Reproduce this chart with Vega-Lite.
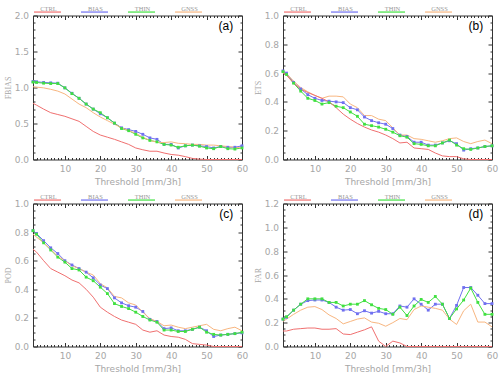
{
"$schema": "https://vega.github.io/schema/vega-lite/v6.json",
"padding": {"left": 3, "top": -3.5, "right": 0, "bottom": 0},
"background": "white",
"data": {"values": [
{"p":"a","s":"BIAS","x":1,"y":1.083},{"p":"a","s":"BIAS","x":2,"y":1.08},{"p":"a","s":"BIAS","x":4,"y":1.07},{"p":"a","s":"BIAS","x":6,"y":1.065},{"p":"a","s":"BIAS","x":8,"y":1.06},{"p":"a","s":"BIAS","x":10,"y":0.995},{"p":"a","s":"BIAS","x":12,"y":0.92},{"p":"a","s":"BIAS","x":14,"y":0.85},{"p":"a","s":"BIAS","x":16,"y":0.77},{"p":"a","s":"BIAS","x":18,"y":0.70},{"p":"a","s":"BIAS","x":20,"y":0.635},{"p":"a","s":"BIAS","x":22,"y":0.58},{"p":"a","s":"BIAS","x":24,"y":0.505},{"p":"a","s":"BIAS","x":26,"y":0.44},{"p":"a","s":"BIAS","x":28,"y":0.415},{"p":"a","s":"BIAS","x":30,"y":0.39},{"p":"a","s":"BIAS","x":32,"y":0.35},{"p":"a","s":"BIAS","x":34,"y":0.30},{"p":"a","s":"BIAS","x":36,"y":0.28},{"p":"a","s":"BIAS","x":38,"y":0.21},{"p":"a","s":"BIAS","x":40,"y":0.21},{"p":"a","s":"BIAS","x":42,"y":0.16},{"p":"a","s":"BIAS","x":44,"y":0.19},{"p":"a","s":"BIAS","x":46,"y":0.20},{"p":"a","s":"BIAS","x":48,"y":0.19},{"p":"a","s":"BIAS","x":50,"y":0.18},{"p":"a","s":"BIAS","x":52,"y":0.16},{"p":"a","s":"BIAS","x":54,"y":0.18},{"p":"a","s":"BIAS","x":56,"y":0.17},{"p":"a","s":"BIAS","x":58,"y":0.17},{"p":"a","s":"BIAS","x":60,"y":0.19},
{"p":"a","s":"THIN","x":1,"y":1.075},{"p":"a","s":"THIN","x":2,"y":1.07},{"p":"a","s":"THIN","x":4,"y":1.06},{"p":"a","s":"THIN","x":6,"y":1.055},{"p":"a","s":"THIN","x":8,"y":1.055},{"p":"a","s":"THIN","x":10,"y":0.995},{"p":"a","s":"THIN","x":12,"y":0.915},{"p":"a","s":"THIN","x":14,"y":0.85},{"p":"a","s":"THIN","x":16,"y":0.77},{"p":"a","s":"THIN","x":18,"y":0.70},{"p":"a","s":"THIN","x":20,"y":0.65},{"p":"a","s":"THIN","x":22,"y":0.58},{"p":"a","s":"THIN","x":24,"y":0.505},{"p":"a","s":"THIN","x":26,"y":0.43},{"p":"a","s":"THIN","x":28,"y":0.40},{"p":"a","s":"THIN","x":30,"y":0.35},{"p":"a","s":"THIN","x":32,"y":0.30},{"p":"a","s":"THIN","x":34,"y":0.265},{"p":"a","s":"THIN","x":36,"y":0.245},{"p":"a","s":"THIN","x":38,"y":0.21},{"p":"a","s":"THIN","x":40,"y":0.20},{"p":"a","s":"THIN","x":42,"y":0.17},{"p":"a","s":"THIN","x":44,"y":0.19},{"p":"a","s":"THIN","x":46,"y":0.20},{"p":"a","s":"THIN","x":48,"y":0.185},{"p":"a","s":"THIN","x":50,"y":0.16},{"p":"a","s":"THIN","x":52,"y":0.15},{"p":"a","s":"THIN","x":54,"y":0.18},{"p":"a","s":"THIN","x":56,"y":0.15},{"p":"a","s":"THIN","x":58,"y":0.145},{"p":"a","s":"THIN","x":60,"y":0.16},
{"p":"a","s":"GNSS","x":1,"y":1.01},{"p":"a","s":"GNSS","x":4,"y":0.995},{"p":"a","s":"GNSS","x":6,"y":0.975},{"p":"a","s":"GNSS","x":8,"y":0.95},{"p":"a","s":"GNSS","x":10,"y":0.91},{"p":"a","s":"GNSS","x":12,"y":0.84},{"p":"a","s":"GNSS","x":14,"y":0.77},{"p":"a","s":"GNSS","x":16,"y":0.72},{"p":"a","s":"GNSS","x":18,"y":0.65},{"p":"a","s":"GNSS","x":20,"y":0.59},{"p":"a","s":"GNSS","x":22,"y":0.54},{"p":"a","s":"GNSS","x":24,"y":0.49},{"p":"a","s":"GNSS","x":26,"y":0.44},{"p":"a","s":"GNSS","x":28,"y":0.40},{"p":"a","s":"GNSS","x":30,"y":0.365},{"p":"a","s":"GNSS","x":32,"y":0.31},{"p":"a","s":"GNSS","x":34,"y":0.265},{"p":"a","s":"GNSS","x":36,"y":0.24},{"p":"a","s":"GNSS","x":38,"y":0.235},{"p":"a","s":"GNSS","x":40,"y":0.245},{"p":"a","s":"GNSS","x":42,"y":0.225},{"p":"a","s":"GNSS","x":44,"y":0.22},{"p":"a","s":"GNSS","x":46,"y":0.21},{"p":"a","s":"GNSS","x":48,"y":0.21},{"p":"a","s":"GNSS","x":50,"y":0.20},{"p":"a","s":"GNSS","x":52,"y":0.20},{"p":"a","s":"GNSS","x":54,"y":0.19},{"p":"a","s":"GNSS","x":56,"y":0.18},{"p":"a","s":"GNSS","x":58,"y":0.17},{"p":"a","s":"GNSS","x":60,"y":0.16},
{"p":"a","s":"CTRL","x":1,"y":0.78},{"p":"a","s":"CTRL","x":2,"y":0.755},{"p":"a","s":"CTRL","x":4,"y":0.70},{"p":"a","s":"CTRL","x":6,"y":0.65},{"p":"a","s":"CTRL","x":8,"y":0.625},{"p":"a","s":"CTRL","x":10,"y":0.60},{"p":"a","s":"CTRL","x":12,"y":0.565},{"p":"a","s":"CTRL","x":14,"y":0.53},{"p":"a","s":"CTRL","x":16,"y":0.46},{"p":"a","s":"CTRL","x":18,"y":0.39},{"p":"a","s":"CTRL","x":20,"y":0.34},{"p":"a","s":"CTRL","x":22,"y":0.31},{"p":"a","s":"CTRL","x":24,"y":0.28},{"p":"a","s":"CTRL","x":26,"y":0.245},{"p":"a","s":"CTRL","x":28,"y":0.21},{"p":"a","s":"CTRL","x":30,"y":0.16},{"p":"a","s":"CTRL","x":32,"y":0.135},{"p":"a","s":"CTRL","x":34,"y":0.115},{"p":"a","s":"CTRL","x":36,"y":0.115},{"p":"a","s":"CTRL","x":38,"y":0.09},{"p":"a","s":"CTRL","x":40,"y":0.07},{"p":"a","s":"CTRL","x":42,"y":0.06},{"p":"a","s":"CTRL","x":44,"y":0.04},{"p":"a","s":"CTRL","x":46,"y":0.015},{"p":"a","s":"CTRL","x":48,"y":0.005},{"p":"a","s":"CTRL","x":50,"y":0},{"p":"a","s":"CTRL","x":52,"y":0},{"p":"a","s":"CTRL","x":54,"y":0},{"p":"a","s":"CTRL","x":56,"y":0},{"p":"a","s":"CTRL","x":58,"y":0},{"p":"a","s":"CTRL","x":60,"y":0},

{"p":"b","s":"BIAS","x":1,"y":0.615},{"p":"b","s":"BIAS","x":2,"y":0.60},{"p":"b","s":"BIAS","x":4,"y":0.535},{"p":"b","s":"BIAS","x":6,"y":0.49},{"p":"b","s":"BIAS","x":8,"y":0.45},{"p":"b","s":"BIAS","x":10,"y":0.425},{"p":"b","s":"BIAS","x":12,"y":0.41},{"p":"b","s":"BIAS","x":14,"y":0.405},{"p":"b","s":"BIAS","x":16,"y":0.40},{"p":"b","s":"BIAS","x":18,"y":0.395},{"p":"b","s":"BIAS","x":20,"y":0.36},{"p":"b","s":"BIAS","x":22,"y":0.345},{"p":"b","s":"BIAS","x":24,"y":0.295},{"p":"b","s":"BIAS","x":26,"y":0.27},{"p":"b","s":"BIAS","x":28,"y":0.255},{"p":"b","s":"BIAS","x":30,"y":0.245},{"p":"b","s":"BIAS","x":32,"y":0.215},{"p":"b","s":"BIAS","x":34,"y":0.17},{"p":"b","s":"BIAS","x":36,"y":0.16},{"p":"b","s":"BIAS","x":38,"y":0.12},{"p":"b","s":"BIAS","x":40,"y":0.12},{"p":"b","s":"BIAS","x":42,"y":0.10},{"p":"b","s":"BIAS","x":44,"y":0.10},{"p":"b","s":"BIAS","x":46,"y":0.115},{"p":"b","s":"BIAS","x":48,"y":0.13},{"p":"b","s":"BIAS","x":50,"y":0.11},{"p":"b","s":"BIAS","x":52,"y":0.065},{"p":"b","s":"BIAS","x":54,"y":0.075},{"p":"b","s":"BIAS","x":56,"y":0.08},{"p":"b","s":"BIAS","x":58,"y":0.09},{"p":"b","s":"BIAS","x":60,"y":0.095},
{"p":"b","s":"THIN","x":1,"y":0.61},{"p":"b","s":"THIN","x":2,"y":0.59},{"p":"b","s":"THIN","x":4,"y":0.53},{"p":"b","s":"THIN","x":6,"y":0.475},{"p":"b","s":"THIN","x":8,"y":0.425},{"p":"b","s":"THIN","x":10,"y":0.41},{"p":"b","s":"THIN","x":12,"y":0.385},{"p":"b","s":"THIN","x":14,"y":0.395},{"p":"b","s":"THIN","x":16,"y":0.37},{"p":"b","s":"THIN","x":18,"y":0.36},{"p":"b","s":"THIN","x":20,"y":0.33},{"p":"b","s":"THIN","x":22,"y":0.30},{"p":"b","s":"THIN","x":24,"y":0.245},{"p":"b","s":"THIN","x":26,"y":0.235},{"p":"b","s":"THIN","x":28,"y":0.225},{"p":"b","s":"THIN","x":30,"y":0.21},{"p":"b","s":"THIN","x":32,"y":0.19},{"p":"b","s":"THIN","x":34,"y":0.165},{"p":"b","s":"THIN","x":36,"y":0.155},{"p":"b","s":"THIN","x":38,"y":0.11},{"p":"b","s":"THIN","x":40,"y":0.105},{"p":"b","s":"THIN","x":42,"y":0.095},{"p":"b","s":"THIN","x":44,"y":0.095},{"p":"b","s":"THIN","x":46,"y":0.115},{"p":"b","s":"THIN","x":48,"y":0.135},{"p":"b","s":"THIN","x":50,"y":0.10},{"p":"b","s":"THIN","x":52,"y":0.075},{"p":"b","s":"THIN","x":54,"y":0.07},{"p":"b","s":"THIN","x":56,"y":0.08},{"p":"b","s":"THIN","x":58,"y":0.09},{"p":"b","s":"THIN","x":60,"y":0.095},
{"p":"b","s":"GNSS","x":1,"y":0.62},{"p":"b","s":"GNSS","x":4,"y":0.545},{"p":"b","s":"GNSS","x":6,"y":0.50},{"p":"b","s":"GNSS","x":8,"y":0.47},{"p":"b","s":"GNSS","x":10,"y":0.445},{"p":"b","s":"GNSS","x":12,"y":0.425},{"p":"b","s":"GNSS","x":14,"y":0.44},{"p":"b","s":"GNSS","x":16,"y":0.44},{"p":"b","s":"GNSS","x":18,"y":0.435},{"p":"b","s":"GNSS","x":20,"y":0.385},{"p":"b","s":"GNSS","x":22,"y":0.36},{"p":"b","s":"GNSS","x":24,"y":0.305},{"p":"b","s":"GNSS","x":26,"y":0.305},{"p":"b","s":"GNSS","x":28,"y":0.28},{"p":"b","s":"GNSS","x":30,"y":0.27},{"p":"b","s":"GNSS","x":32,"y":0.22},{"p":"b","s":"GNSS","x":34,"y":0.17},{"p":"b","s":"GNSS","x":36,"y":0.17},{"p":"b","s":"GNSS","x":38,"y":0.145},{"p":"b","s":"GNSS","x":40,"y":0.14},{"p":"b","s":"GNSS","x":42,"y":0.13},{"p":"b","s":"GNSS","x":44,"y":0.12},{"p":"b","s":"GNSS","x":46,"y":0.13},{"p":"b","s":"GNSS","x":48,"y":0.145},{"p":"b","s":"GNSS","x":50,"y":0.15},{"p":"b","s":"GNSS","x":52,"y":0.125},{"p":"b","s":"GNSS","x":54,"y":0.11},{"p":"b","s":"GNSS","x":56,"y":0.125},{"p":"b","s":"GNSS","x":58,"y":0.135},{"p":"b","s":"GNSS","x":60,"y":0.11},
{"p":"b","s":"CTRL","x":1,"y":0.60},{"p":"b","s":"CTRL","x":2,"y":0.585},{"p":"b","s":"CTRL","x":4,"y":0.53},{"p":"b","s":"CTRL","x":6,"y":0.49},{"p":"b","s":"CTRL","x":8,"y":0.465},{"p":"b","s":"CTRL","x":10,"y":0.445},{"p":"b","s":"CTRL","x":12,"y":0.425},{"p":"b","s":"CTRL","x":14,"y":0.40},{"p":"b","s":"CTRL","x":16,"y":0.36},{"p":"b","s":"CTRL","x":18,"y":0.315},{"p":"b","s":"CTRL","x":20,"y":0.28},{"p":"b","s":"CTRL","x":22,"y":0.25},{"p":"b","s":"CTRL","x":24,"y":0.225},{"p":"b","s":"CTRL","x":26,"y":0.205},{"p":"b","s":"CTRL","x":28,"y":0.19},{"p":"b","s":"CTRL","x":30,"y":0.17},{"p":"b","s":"CTRL","x":32,"y":0.145},{"p":"b","s":"CTRL","x":34,"y":0.115},{"p":"b","s":"CTRL","x":36,"y":0.12},{"p":"b","s":"CTRL","x":38,"y":0.08},{"p":"b","s":"CTRL","x":40,"y":0.075},{"p":"b","s":"CTRL","x":42,"y":0.07},{"p":"b","s":"CTRL","x":44,"y":0.045},{"p":"b","s":"CTRL","x":46,"y":0.025},{"p":"b","s":"CTRL","x":48,"y":0.02},{"p":"b","s":"CTRL","x":50,"y":0.02},{"p":"b","s":"CTRL","x":52,"y":0.005},{"p":"b","s":"CTRL","x":54,"y":0},{"p":"b","s":"CTRL","x":56,"y":0},{"p":"b","s":"CTRL","x":58,"y":0},{"p":"b","s":"CTRL","x":60,"y":0},

{"p":"c","s":"BIAS","x":1,"y":0.81},{"p":"c","s":"BIAS","x":2,"y":0.79},{"p":"c","s":"BIAS","x":4,"y":0.74},{"p":"c","s":"BIAS","x":6,"y":0.69},{"p":"c","s":"BIAS","x":8,"y":0.65},{"p":"c","s":"BIAS","x":10,"y":0.60},{"p":"c","s":"BIAS","x":12,"y":0.57},{"p":"c","s":"BIAS","x":14,"y":0.545},{"p":"c","s":"BIAS","x":16,"y":0.52},{"p":"c","s":"BIAS","x":18,"y":0.48},{"p":"c","s":"BIAS","x":20,"y":0.43},{"p":"c","s":"BIAS","x":22,"y":0.405},{"p":"c","s":"BIAS","x":24,"y":0.34},{"p":"c","s":"BIAS","x":26,"y":0.305},{"p":"c","s":"BIAS","x":28,"y":0.285},{"p":"c","s":"BIAS","x":30,"y":0.275},{"p":"c","s":"BIAS","x":32,"y":0.245},{"p":"c","s":"BIAS","x":34,"y":0.19},{"p":"c","s":"BIAS","x":36,"y":0.175},{"p":"c","s":"BIAS","x":38,"y":0.125},{"p":"c","s":"BIAS","x":40,"y":0.13},{"p":"c","s":"BIAS","x":42,"y":0.11},{"p":"c","s":"BIAS","x":44,"y":0.11},{"p":"c","s":"BIAS","x":46,"y":0.12},{"p":"c","s":"BIAS","x":48,"y":0.135},{"p":"c","s":"BIAS","x":50,"y":0.11},{"p":"c","s":"BIAS","x":52,"y":0.07},{"p":"c","s":"BIAS","x":54,"y":0.08},{"p":"c","s":"BIAS","x":56,"y":0.085},{"p":"c","s":"BIAS","x":58,"y":0.09},{"p":"c","s":"BIAS","x":60,"y":0.095},
{"p":"c","s":"THIN","x":1,"y":0.81},{"p":"c","s":"THIN","x":2,"y":0.785},{"p":"c","s":"THIN","x":4,"y":0.725},{"p":"c","s":"THIN","x":6,"y":0.675},{"p":"c","s":"THIN","x":8,"y":0.625},{"p":"c","s":"THIN","x":10,"y":0.59},{"p":"c","s":"THIN","x":12,"y":0.545},{"p":"c","s":"THIN","x":14,"y":0.535},{"p":"c","s":"THIN","x":16,"y":0.485},{"p":"c","s":"THIN","x":18,"y":0.46},{"p":"c","s":"THIN","x":20,"y":0.415},{"p":"c","s":"THIN","x":22,"y":0.37},{"p":"c","s":"THIN","x":24,"y":0.30},{"p":"c","s":"THIN","x":26,"y":0.28},{"p":"c","s":"THIN","x":28,"y":0.265},{"p":"c","s":"THIN","x":30,"y":0.24},{"p":"c","s":"THIN","x":32,"y":0.21},{"p":"c","s":"THIN","x":34,"y":0.185},{"p":"c","s":"THIN","x":36,"y":0.17},{"p":"c","s":"THIN","x":38,"y":0.115},{"p":"c","s":"THIN","x":40,"y":0.115},{"p":"c","s":"THIN","x":42,"y":0.105},{"p":"c","s":"THIN","x":44,"y":0.105},{"p":"c","s":"THIN","x":46,"y":0.12},{"p":"c","s":"THIN","x":48,"y":0.135},{"p":"c","s":"THIN","x":50,"y":0.10},{"p":"c","s":"THIN","x":52,"y":0.085},{"p":"c","s":"THIN","x":54,"y":0.08},{"p":"c","s":"THIN","x":56,"y":0.085},{"p":"c","s":"THIN","x":58,"y":0.09},{"p":"c","s":"THIN","x":60,"y":0.10},
{"p":"c","s":"GNSS","x":1,"y":0.785},{"p":"c","s":"GNSS","x":4,"y":0.725},{"p":"c","s":"GNSS","x":6,"y":0.68},{"p":"c","s":"GNSS","x":8,"y":0.63},{"p":"c","s":"GNSS","x":10,"y":0.60},{"p":"c","s":"GNSS","x":12,"y":0.565},{"p":"c","s":"GNSS","x":14,"y":0.545},{"p":"c","s":"GNSS","x":16,"y":0.52},{"p":"c","s":"GNSS","x":18,"y":0.50},{"p":"c","s":"GNSS","x":20,"y":0.44},{"p":"c","s":"GNSS","x":22,"y":0.41},{"p":"c","s":"GNSS","x":24,"y":0.35},{"p":"c","s":"GNSS","x":26,"y":0.34},{"p":"c","s":"GNSS","x":28,"y":0.305},{"p":"c","s":"GNSS","x":30,"y":0.29},{"p":"c","s":"GNSS","x":32,"y":0.24},{"p":"c","s":"GNSS","x":34,"y":0.195},{"p":"c","s":"GNSS","x":36,"y":0.175},{"p":"c","s":"GNSS","x":38,"y":0.145},{"p":"c","s":"GNSS","x":40,"y":0.15},{"p":"c","s":"GNSS","x":42,"y":0.135},{"p":"c","s":"GNSS","x":44,"y":0.125},{"p":"c","s":"GNSS","x":46,"y":0.135},{"p":"c","s":"GNSS","x":48,"y":0.145},{"p":"c","s":"GNSS","x":50,"y":0.155},{"p":"c","s":"GNSS","x":52,"y":0.12},{"p":"c","s":"GNSS","x":54,"y":0.11},{"p":"c","s":"GNSS","x":56,"y":0.125},{"p":"c","s":"GNSS","x":58,"y":0.135},{"p":"c","s":"GNSS","x":60,"y":0.11},
{"p":"c","s":"CTRL","x":1,"y":0.68},{"p":"c","s":"CTRL","x":2,"y":0.66},{"p":"c","s":"CTRL","x":4,"y":0.60},{"p":"c","s":"CTRL","x":6,"y":0.545},{"p":"c","s":"CTRL","x":8,"y":0.52},{"p":"c","s":"CTRL","x":10,"y":0.495},{"p":"c","s":"CTRL","x":12,"y":0.465},{"p":"c","s":"CTRL","x":14,"y":0.445},{"p":"c","s":"CTRL","x":16,"y":0.40},{"p":"c","s":"CTRL","x":18,"y":0.345},{"p":"c","s":"CTRL","x":20,"y":0.275},{"p":"c","s":"CTRL","x":22,"y":0.24},{"p":"c","s":"CTRL","x":24,"y":0.21},{"p":"c","s":"CTRL","x":26,"y":0.185},{"p":"c","s":"CTRL","x":28,"y":0.17},{"p":"c","s":"CTRL","x":30,"y":0.155},{"p":"c","s":"CTRL","x":32,"y":0.115},{"p":"c","s":"CTRL","x":34,"y":0.10},{"p":"c","s":"CTRL","x":36,"y":0.11},{"p":"c","s":"CTRL","x":38,"y":0.08},{"p":"c","s":"CTRL","x":40,"y":0.07},{"p":"c","s":"CTRL","x":42,"y":0.065},{"p":"c","s":"CTRL","x":44,"y":0.05},{"p":"c","s":"CTRL","x":46,"y":0.02},{"p":"c","s":"CTRL","x":48,"y":0.015},{"p":"c","s":"CTRL","x":50,"y":0.01},{"p":"c","s":"CTRL","x":52,"y":0},{"p":"c","s":"CTRL","x":54,"y":0},{"p":"c","s":"CTRL","x":56,"y":0},{"p":"c","s":"CTRL","x":58,"y":0},{"p":"c","s":"CTRL","x":60,"y":0},

{"p":"d","s":"BIAS","x":1,"y":0.23},{"p":"d","s":"BIAS","x":2,"y":0.245},{"p":"d","s":"BIAS","x":4,"y":0.305},{"p":"d","s":"BIAS","x":6,"y":0.355},{"p":"d","s":"BIAS","x":8,"y":0.385},{"p":"d","s":"BIAS","x":10,"y":0.39},{"p":"d","s":"BIAS","x":12,"y":0.39},{"p":"d","s":"BIAS","x":14,"y":0.37},{"p":"d","s":"BIAS","x":16,"y":0.33},{"p":"d","s":"BIAS","x":18,"y":0.305},{"p":"d","s":"BIAS","x":20,"y":0.31},{"p":"d","s":"BIAS","x":22,"y":0.275},{"p":"d","s":"BIAS","x":24,"y":0.30},{"p":"d","s":"BIAS","x":26,"y":0.28},{"p":"d","s":"BIAS","x":28,"y":0.295},{"p":"d","s":"BIAS","x":30,"y":0.275},{"p":"d","s":"BIAS","x":32,"y":0.275},{"p":"d","s":"BIAS","x":34,"y":0.34},{"p":"d","s":"BIAS","x":36,"y":0.33},{"p":"d","s":"BIAS","x":38,"y":0.40},{"p":"d","s":"BIAS","x":40,"y":0.355},{"p":"d","s":"BIAS","x":42,"y":0.305},{"p":"d","s":"BIAS","x":44,"y":0.355},{"p":"d","s":"BIAS","x":46,"y":0.355},{"p":"d","s":"BIAS","x":48,"y":0.235},{"p":"d","s":"BIAS","x":50,"y":0.345},{"p":"d","s":"BIAS","x":52,"y":0.495},{"p":"d","s":"BIAS","x":54,"y":0.495},{"p":"d","s":"BIAS","x":56,"y":0.43},{"p":"d","s":"BIAS","x":58,"y":0.36},{"p":"d","s":"BIAS","x":60,"y":0.36},
{"p":"d","s":"THIN","x":1,"y":0.23},{"p":"d","s":"THIN","x":2,"y":0.25},{"p":"d","s":"THIN","x":4,"y":0.305},{"p":"d","s":"THIN","x":6,"y":0.355},{"p":"d","s":"THIN","x":8,"y":0.40},{"p":"d","s":"THIN","x":10,"y":0.40},{"p":"d","s":"THIN","x":12,"y":0.40},{"p":"d","s":"THIN","x":14,"y":0.37},{"p":"d","s":"THIN","x":16,"y":0.37},{"p":"d","s":"THIN","x":18,"y":0.34},{"p":"d","s":"THIN","x":20,"y":0.355},{"p":"d","s":"THIN","x":22,"y":0.355},{"p":"d","s":"THIN","x":24,"y":0.385},{"p":"d","s":"THIN","x":26,"y":0.35},{"p":"d","s":"THIN","x":28,"y":0.32},{"p":"d","s":"THIN","x":30,"y":0.31},{"p":"d","s":"THIN","x":32,"y":0.27},{"p":"d","s":"THIN","x":34,"y":0.33},{"p":"d","s":"THIN","x":36,"y":0.26},{"p":"d","s":"THIN","x":38,"y":0.34},{"p":"d","s":"THIN","x":40,"y":0.395},{"p":"d","s":"THIN","x":42,"y":0.37},{"p":"d","s":"THIN","x":44,"y":0.42},{"p":"d","s":"THIN","x":46,"y":0.355},{"p":"d","s":"THIN","x":48,"y":0.235},{"p":"d","s":"THIN","x":50,"y":0.315},{"p":"d","s":"THIN","x":52,"y":0.39},{"p":"d","s":"THIN","x":54,"y":0.49},{"p":"d","s":"THIN","x":56,"y":0.37},{"p":"d","s":"THIN","x":58,"y":0.27},{"p":"d","s":"THIN","x":60,"y":0.27},
{"p":"d","s":"GNSS","x":1,"y":0.21},{"p":"d","s":"GNSS","x":4,"y":0.27},{"p":"d","s":"GNSS","x":6,"y":0.305},{"p":"d","s":"GNSS","x":8,"y":0.33},{"p":"d","s":"GNSS","x":10,"y":0.335},{"p":"d","s":"GNSS","x":12,"y":0.31},{"p":"d","s":"GNSS","x":14,"y":0.265},{"p":"d","s":"GNSS","x":16,"y":0.235},{"p":"d","s":"GNSS","x":18,"y":0.19},{"p":"d","s":"GNSS","x":20,"y":0.21},{"p":"d","s":"GNSS","x":22,"y":0.23},{"p":"d","s":"GNSS","x":24,"y":0.24},{"p":"d","s":"GNSS","x":26,"y":0.205},{"p":"d","s":"GNSS","x":28,"y":0.195},{"p":"d","s":"GNSS","x":30,"y":0.17},{"p":"d","s":"GNSS","x":32,"y":0.20},{"p":"d","s":"GNSS","x":34,"y":0.235},{"p":"d","s":"GNSS","x":36,"y":0.225},{"p":"d","s":"GNSS","x":38,"y":0.31},{"p":"d","s":"GNSS","x":40,"y":0.34},{"p":"d","s":"GNSS","x":42,"y":0.33},{"p":"d","s":"GNSS","x":44,"y":0.32},{"p":"d","s":"GNSS","x":46,"y":0.305},{"p":"d","s":"GNSS","x":48,"y":0.23},{"p":"d","s":"GNSS","x":50,"y":0.185},{"p":"d","s":"GNSS","x":52,"y":0.30},{"p":"d","s":"GNSS","x":54,"y":0.355},{"p":"d","s":"GNSS","x":56,"y":0.205},{"p":"d","s":"GNSS","x":58,"y":0.205},{"p":"d","s":"GNSS","x":60,"y":0.165},
{"p":"d","s":"CTRL","x":1,"y":0.13},{"p":"d","s":"CTRL","x":2,"y":0.13},{"p":"d","s":"CTRL","x":4,"y":0.145},{"p":"d","s":"CTRL","x":6,"y":0.15},{"p":"d","s":"CTRL","x":8,"y":0.155},{"p":"d","s":"CTRL","x":10,"y":0.155},{"p":"d","s":"CTRL","x":12,"y":0.145},{"p":"d","s":"CTRL","x":14,"y":0.145},{"p":"d","s":"CTRL","x":16,"y":0.15},{"p":"d","s":"CTRL","x":18,"y":0.105},{"p":"d","s":"CTRL","x":20,"y":0.10},{"p":"d","s":"CTRL","x":22,"y":0.12},{"p":"d","s":"CTRL","x":24,"y":0.14},{"p":"d","s":"CTRL","x":26,"y":0.165},{"p":"d","s":"CTRL","x":28,"y":0.045},{"p":"d","s":"CTRL","x":30,"y":0},{"p":"d","s":"CTRL","x":32,"y":0.045},{"p":"d","s":"CTRL","x":34,"y":0.03},{"p":"d","s":"CTRL","x":36,"y":0},{"p":"d","s":"CTRL","x":38,"y":0},{"p":"d","s":"CTRL","x":40,"y":0},{"p":"d","s":"CTRL","x":42,"y":0},{"p":"d","s":"CTRL","x":44,"y":0},{"p":"d","s":"CTRL","x":46,"y":0},{"p":"d","s":"CTRL","x":48,"y":0},{"p":"d","s":"CTRL","x":50,"y":0},{"p":"d","s":"CTRL","x":52,"y":0},{"p":"d","s":"CTRL","x":54,"y":0},{"p":"d","s":"CTRL","x":56,"y":0},{"p":"d","s":"CTRL","x":58,"y":0},{"p":"d","s":"CTRL","x":60,"y":0}
]},
"columns": 2,
"spacing": {"row": 44, "column": 41},
"bounds": "flush",
"resolve": {"scale": {"x": "independent", "y": "independent"}, "legend": {"color": "independent"}},
"concat": [
{
"width": 209, "height": 144,
"layer": [
{"transform": [{"filter": "datum.p === 'a'"}],
 "mark": {"type": "line", "strokeWidth": 1},
 "encoding": {
  "x": {"field": "x", "type": "quantitative", "scale": {"domain": [1, 60], "nice": false, "zero": false},
   "axis": {"orient": "bottom", "values": [2,3,4,5,6,7,8,9,10,11,12,13,14,15,16,17,18,19,20,21,22,23,24,25,26,27,28,29,30,31,32,33,34,35,36,37,38,39,40,41,42,43,44,45,46,47,48,49,50,51,52,53,54,55,56,57,58,59,60], "labelExpr": "datum.value % 10 === 0 ? datum.label : ''", "tickSize": {"condition": {"test": "datum.value % 10 === 0", "value": -4}, "value": -2}, "title": "Threshold [mm/3h]"}},
  "y": {"field": "y", "type": "quantitative", "scale": {"domain": [0, 2], "nice": false, "zero": false},
   "axis": {"orient": "left", "values": [0,0.1,0.2,0.3,0.4,0.5,0.6,0.7,0.8,0.9,1,1.1,1.2,1.3,1.4,1.5,1.6,1.7,1.8,1.9,2], "format": ".1f", "labelExpr": "abs(datum.value*2-round(datum.value*2))<1e-6 ? datum.label : ''", "tickSize": {"condition": {"test": "abs(datum.value*2-round(datum.value*2))<1e-6", "value": -4}, "value": -2}, "title": "FBIAS"}},
  "color": {"field": "s", "type": "nominal", "scale": {"domain": ["CTRL", "BIAS", "THIN", "GNSS"], "range": ["#f07070", "#7070f0", "#40e040", "#f8b680"]}, "legend": {"orient": "top"}}
 }},
{"transform": [{"filter": "datum.p === 'a' && (datum.s === 'BIAS' || datum.s === 'THIN')"}],
 "mark": {"type": "point", "shape": "square", "filled": true, "size": 8, "opacity": 1},
 "encoding": {
  "x": {"field": "x", "type": "quantitative",
   "axis": {"orient": "top", "values": [2,3,4,5,6,7,8,9,10,11,12,13,14,15,16,17,18,19,20,21,22,23,24,25,26,27,28,29,30,31,32,33,34,35,36,37,38,39,40,41,42,43,44,45,46,47,48,49,50,51,52,53,54,55,56,57,58,59,60], "labels": false, "title": null, "tickSize": {"condition": {"test": "datum.value % 10 === 0", "value": -4}, "value": -2}}},
  "y": {"field": "y", "type": "quantitative",
   "axis": {"orient": "right", "values": [0,0.1,0.2,0.3,0.4,0.5,0.6,0.7,0.8,0.9,1,1.1,1.2,1.3,1.4,1.5,1.6,1.7,1.8,1.9,2], "labels": false, "title": null, "tickSize": {"condition": {"test": "abs(datum.value*2-round(datum.value*2))<1e-6", "value": -4}, "value": -2}}},
  "color": {"field": "s", "type": "nominal", "legend": null}
 }},
{"data": {"values": [{}]},
 "mark": {"type": "text", "text": "(a)", "align": "right", "baseline": "middle", "font": "Liberation Sans", "fontSize": 12, "color": "black"},
 "encoding": {"x": {"datum": 57.5, "type": "quantitative", "axis": null}, "y": {"datum": 1.85, "type": "quantitative", "axis": null}}}
],
"resolve": {"axis": {"x": "independent", "y": "independent"}}
},
{
"width": 209, "height": 144,
"layer": [
{"transform": [{"filter": "datum.p === 'b'"}],
 "mark": {"type": "line", "strokeWidth": 1},
 "encoding": {
  "x": {"field": "x", "type": "quantitative", "scale": {"domain": [1, 60], "nice": false, "zero": false},
   "axis": {"orient": "bottom", "values": [2,3,4,5,6,7,8,9,10,11,12,13,14,15,16,17,18,19,20,21,22,23,24,25,26,27,28,29,30,31,32,33,34,35,36,37,38,39,40,41,42,43,44,45,46,47,48,49,50,51,52,53,54,55,56,57,58,59,60], "labelExpr": "datum.value % 10 === 0 ? datum.label : ''", "tickSize": {"condition": {"test": "datum.value % 10 === 0", "value": -4}, "value": -2}, "title": "Threshold [mm/3h]"}},
  "y": {"field": "y", "type": "quantitative", "scale": {"domain": [0, 1], "nice": false, "zero": false},
   "axis": {"orient": "left", "values": [0,0.05,0.1,0.15,0.2,0.25,0.3,0.35,0.4,0.45,0.5,0.55,0.6,0.65,0.7,0.75,0.8,0.85,0.9,0.95,1], "format": ".1f", "labelExpr": "abs(datum.value*5-round(datum.value*5))<1e-6 ? datum.label : ''", "tickSize": {"condition": {"test": "abs(datum.value*5-round(datum.value*5))<1e-6", "value": -4}, "value": -2}, "title": "ETS"}},
  "color": {"field": "s", "type": "nominal", "scale": {"domain": ["CTRL", "BIAS", "THIN", "GNSS"], "range": ["#f07070", "#7070f0", "#40e040", "#f8b680"]}, "legend": {"orient": "top"}}
 }},
{"transform": [{"filter": "datum.p === 'b' && (datum.s === 'BIAS' || datum.s === 'THIN')"}],
 "mark": {"type": "point", "shape": "square", "filled": true, "size": 8, "opacity": 1},
 "encoding": {
  "x": {"field": "x", "type": "quantitative",
   "axis": {"orient": "top", "values": [2,3,4,5,6,7,8,9,10,11,12,13,14,15,16,17,18,19,20,21,22,23,24,25,26,27,28,29,30,31,32,33,34,35,36,37,38,39,40,41,42,43,44,45,46,47,48,49,50,51,52,53,54,55,56,57,58,59,60], "labels": false, "title": null, "tickSize": {"condition": {"test": "datum.value % 10 === 0", "value": -4}, "value": -2}}},
  "y": {"field": "y", "type": "quantitative",
   "axis": {"orient": "right", "values": [0,0.05,0.1,0.15,0.2,0.25,0.3,0.35,0.4,0.45,0.5,0.55,0.6,0.65,0.7,0.75,0.8,0.85,0.9,0.95,1], "labels": false, "title": null, "tickSize": {"condition": {"test": "abs(datum.value*5-round(datum.value*5))<1e-6", "value": -4}, "value": -2}}},
  "color": {"field": "s", "type": "nominal", "legend": null}
 }},
{"data": {"values": [{}]},
 "mark": {"type": "text", "text": "(b)", "align": "right", "baseline": "middle", "font": "Liberation Sans", "fontSize": 12, "color": "black"},
 "encoding": {"x": {"datum": 57.5, "type": "quantitative", "axis": null}, "y": {"datum": 0.924, "type": "quantitative", "axis": null}}}
],
"resolve": {"axis": {"x": "independent", "y": "independent"}}
},
{
"width": 209, "height": 143,
"layer": [
{"transform": [{"filter": "datum.p === 'c'"}],
 "mark": {"type": "line", "strokeWidth": 1},
 "encoding": {
  "x": {"field": "x", "type": "quantitative", "scale": {"domain": [1, 60], "nice": false, "zero": false},
   "axis": {"orient": "bottom", "values": [2,3,4,5,6,7,8,9,10,11,12,13,14,15,16,17,18,19,20,21,22,23,24,25,26,27,28,29,30,31,32,33,34,35,36,37,38,39,40,41,42,43,44,45,46,47,48,49,50,51,52,53,54,55,56,57,58,59,60], "labelExpr": "datum.value % 10 === 0 ? datum.label : ''", "tickSize": {"condition": {"test": "datum.value % 10 === 0", "value": -4}, "value": -2}, "title": "Threshold [mm/3h]"}},
  "y": {"field": "y", "type": "quantitative", "scale": {"domain": [0, 1], "nice": false, "zero": false},
   "axis": {"orient": "left", "values": [0,0.05,0.1,0.15,0.2,0.25,0.3,0.35,0.4,0.45,0.5,0.55,0.6,0.65,0.7,0.75,0.8,0.85,0.9,0.95,1], "format": ".1f", "labelExpr": "abs(datum.value*5-round(datum.value*5))<1e-6 ? datum.label : ''", "tickSize": {"condition": {"test": "abs(datum.value*5-round(datum.value*5))<1e-6", "value": -4}, "value": -2}, "title": "POD"}},
  "color": {"field": "s", "type": "nominal", "scale": {"domain": ["CTRL", "BIAS", "THIN", "GNSS"], "range": ["#f07070", "#7070f0", "#40e040", "#f8b680"]}, "legend": {"orient": "top"}}
 }},
{"transform": [{"filter": "datum.p === 'c' && (datum.s === 'BIAS' || datum.s === 'THIN')"}],
 "mark": {"type": "point", "shape": "square", "filled": true, "size": 8, "opacity": 1},
 "encoding": {
  "x": {"field": "x", "type": "quantitative",
   "axis": {"orient": "top", "values": [2,3,4,5,6,7,8,9,10,11,12,13,14,15,16,17,18,19,20,21,22,23,24,25,26,27,28,29,30,31,32,33,34,35,36,37,38,39,40,41,42,43,44,45,46,47,48,49,50,51,52,53,54,55,56,57,58,59,60], "labels": false, "title": null, "tickSize": {"condition": {"test": "datum.value % 10 === 0", "value": -4}, "value": -2}}},
  "y": {"field": "y", "type": "quantitative",
   "axis": {"orient": "right", "values": [0,0.05,0.1,0.15,0.2,0.25,0.3,0.35,0.4,0.45,0.5,0.55,0.6,0.65,0.7,0.75,0.8,0.85,0.9,0.95,1], "labels": false, "title": null, "tickSize": {"condition": {"test": "abs(datum.value*5-round(datum.value*5))<1e-6", "value": -4}, "value": -2}}},
  "color": {"field": "s", "type": "nominal", "legend": null}
 }},
{"data": {"values": [{}]},
 "mark": {"type": "text", "text": "(c)", "align": "right", "baseline": "middle", "font": "Liberation Sans", "fontSize": 12, "color": "black"},
 "encoding": {"x": {"datum": 57.5, "type": "quantitative", "axis": null}, "y": {"datum": 0.93, "type": "quantitative", "axis": null}}}
],
"resolve": {"axis": {"x": "independent", "y": "independent"}}
},
{
"width": 209, "height": 143,
"layer": [
{"transform": [{"filter": "datum.p === 'd'"}],
 "mark": {"type": "line", "strokeWidth": 1},
 "encoding": {
  "x": {"field": "x", "type": "quantitative", "scale": {"domain": [1, 60], "nice": false, "zero": false},
   "axis": {"orient": "bottom", "values": [2,3,4,5,6,7,8,9,10,11,12,13,14,15,16,17,18,19,20,21,22,23,24,25,26,27,28,29,30,31,32,33,34,35,36,37,38,39,40,41,42,43,44,45,46,47,48,49,50,51,52,53,54,55,56,57,58,59,60], "labelExpr": "datum.value % 10 === 0 ? datum.label : ''", "tickSize": {"condition": {"test": "datum.value % 10 === 0", "value": -4}, "value": -2}, "title": "Threshold [mm/3h]"}},
  "y": {"field": "y", "type": "quantitative", "scale": {"domain": [0, 1.2], "nice": false, "zero": false},
   "axis": {"orient": "left", "values": [0,0.05,0.1,0.15,0.2,0.25,0.3,0.35,0.4,0.45,0.5,0.55,0.6,0.65,0.7,0.75,0.8,0.85,0.9,0.95,1,1.05,1.1,1.15,1.2], "format": ".1f", "labelExpr": "abs(datum.value*5-round(datum.value*5))<1e-6 ? datum.label : ''", "tickSize": {"condition": {"test": "abs(datum.value*5-round(datum.value*5))<1e-6", "value": -4}, "value": -2}, "title": "FAR"}},
  "color": {"field": "s", "type": "nominal", "scale": {"domain": ["CTRL", "BIAS", "THIN", "GNSS"], "range": ["#f07070", "#7070f0", "#40e040", "#f8b680"]}, "legend": {"orient": "top"}}
 }},
{"transform": [{"filter": "datum.p === 'd' && (datum.s === 'BIAS' || datum.s === 'THIN')"}],
 "mark": {"type": "point", "shape": "square", "filled": true, "size": 8, "opacity": 1},
 "encoding": {
  "x": {"field": "x", "type": "quantitative",
   "axis": {"orient": "top", "values": [2,3,4,5,6,7,8,9,10,11,12,13,14,15,16,17,18,19,20,21,22,23,24,25,26,27,28,29,30,31,32,33,34,35,36,37,38,39,40,41,42,43,44,45,46,47,48,49,50,51,52,53,54,55,56,57,58,59,60], "labels": false, "title": null, "tickSize": {"condition": {"test": "datum.value % 10 === 0", "value": -4}, "value": -2}}},
  "y": {"field": "y", "type": "quantitative",
   "axis": {"orient": "right", "values": [0,0.05,0.1,0.15,0.2,0.25,0.3,0.35,0.4,0.45,0.5,0.55,0.6,0.65,0.7,0.75,0.8,0.85,0.9,0.95,1,1.05,1.1,1.15,1.2], "labels": false, "title": null, "tickSize": {"condition": {"test": "abs(datum.value*5-round(datum.value*5))<1e-6", "value": -4}, "value": -2}}},
  "color": {"field": "s", "type": "nominal", "legend": null}
 }},
{"data": {"values": [{}]},
 "mark": {"type": "text", "text": "(d)", "align": "right", "baseline": "middle", "font": "Liberation Sans", "fontSize": 12, "color": "black"},
 "encoding": {"x": {"datum": 57.5, "type": "quantitative", "axis": null}, "y": {"datum": 1.116, "type": "quantitative", "axis": null}}}
],
"resolve": {"axis": {"x": "independent", "y": "independent"}}
}
],
"config": {
 "view": {"stroke": "#333333", "strokeWidth": 1},
 "font": "DejaVu Sans",
 "axis": {"domain": false, "grid": false, "tickColor": "#333333", "tickWidth": 1, "labelColor": "#a6a6a6", "labelFont": "DejaVu Sans", "labelFontSize": 9, "titleColor": "#a6a6a6", "titleFont": "DejaVu Sans", "titleFontSize": 9, "titleFontWeight": "normal", "labelOverlap": false, "labelFlush": false},
 "axisX": {"labelPadding": 9, "titlePadding": 2},
 "axisY": {"labelPadding": 8.5, "titlePadding": 2, "titleFont": "Liberation Serif", "titleFontSize": 8},
 "legend": {"direction": "horizontal", "title": null, "symbolType": "stroke", "symbolSize": 729, "symbolStrokeWidth": 1.2, "labelAlign": "center", "labelBaseline": "bottom", "labelOffset": -13.5, "labelFont": "Liberation Serif", "labelFontSize": 6.5, "labelColor": "#999999", "columnPadding": 14, "offset": 0, "padding": 0}
}
}
